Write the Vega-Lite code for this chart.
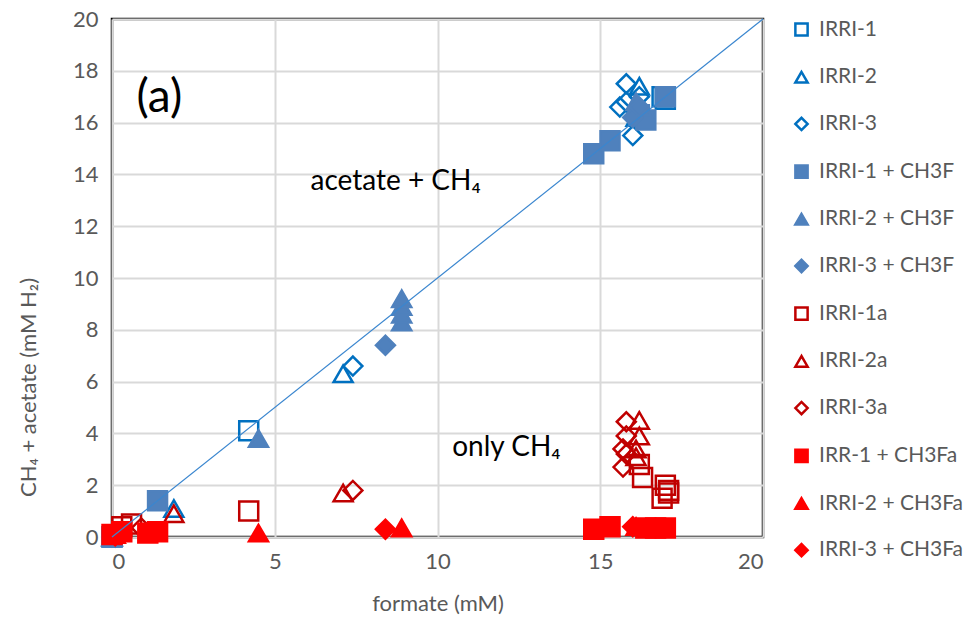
{
  "$schema": "https://vega.github.io/schema/vega-lite/v6.json",
  "width": 651,
  "height": 518,
  "autosize": "none",
  "padding": {"left": 112, "top": 19, "right": 204, "bottom": 90},
  "config": {
    "view": {"stroke": "#000000", "strokeWidth": 2.5},
    "font": "Lato",
    "axis": {"labelFont": "Lato", "titleFont": "Lato", "labelColor": "#595959", "titleColor": "#595959", "labelFontSize": 22, "titleFontSize": 22, "titleFontWeight": "normal", "gridColor": "#D9D9D9", "gridWidth": 2, "domain": false, "ticks": false},
    "legend": {"labelFont": "Lato", "labelFontSize": 21, "labelColor": "#595959"}
  },
  "datasets": {
    "pts": [
      {"series": "IRRI-1", "formate": 0, "total": 0},
      {"series": "IRRI-1", "formate": 4.2, "total": 4.1},
      {"series": "IRRI-1", "formate": 16.9, "total": 17.0},
      {"series": "IRRI-1", "formate": 17.0, "total": 16.9},
      {"series": "IRRI-2", "formate": 0, "total": 0},
      {"series": "IRRI-2", "formate": 1.9, "total": 1.1},
      {"series": "IRRI-2", "formate": 7.1, "total": 6.3},
      {"series": "IRRI-2", "formate": 16.2, "total": 17.4},
      {"series": "IRRI-2", "formate": 16.1, "total": 16.2},
      {"series": "IRRI-3", "formate": 0.1, "total": 0},
      {"series": "IRRI-3", "formate": 7.4, "total": 6.6},
      {"series": "IRRI-3", "formate": 15.8, "total": 17.5},
      {"series": "IRRI-3", "formate": 15.6, "total": 16.6},
      {"series": "IRRI-3", "formate": 15.8, "total": 16.8},
      {"series": "IRRI-3", "formate": 16.0, "total": 15.5},
      {"series": "IRRI-3", "formate": 16.2, "total": 17.0},
      {"series": "IRRI-1 + CH3F", "formate": 0, "total": 0},
      {"series": "IRRI-1 + CH3F", "formate": 1.4, "total": 1.4},
      {"series": "IRRI-1 + CH3F", "formate": 14.8, "total": 14.8},
      {"series": "IRRI-1 + CH3F", "formate": 15.3, "total": 15.3},
      {"series": "IRRI-1 + CH3F", "formate": 16.2, "total": 16.3},
      {"series": "IRRI-1 + CH3F", "formate": 16.4, "total": 16.1},
      {"series": "IRRI-1 + CH3F", "formate": 17.0, "total": 17.0},
      {"series": "IRRI-2 + CH3F", "formate": 0, "total": 0},
      {"series": "IRRI-2 + CH3F", "formate": 4.5, "total": 3.8},
      {"series": "IRRI-2 + CH3F", "formate": 8.9, "total": 8.3},
      {"series": "IRRI-2 + CH3F", "formate": 8.9, "total": 8.6},
      {"series": "IRRI-2 + CH3F", "formate": 8.9, "total": 8.9},
      {"series": "IRRI-2 + CH3F", "formate": 8.9, "total": 9.2},
      {"series": "IRRI-2 + CH3F", "formate": 16.1, "total": 16.8},
      {"series": "IRRI-2 + CH3F", "formate": 16.3, "total": 16.5},
      {"series": "IRRI-3 + CH3F", "formate": 0, "total": 0},
      {"series": "IRRI-3 + CH3F", "formate": 8.4, "total": 7.4},
      {"series": "IRRI-3 + CH3F", "formate": 16.0, "total": 16.2},
      {"series": "IRRI-3 + CH3F", "formate": 16.2, "total": 16.6},
      {"series": "IRRI-1a", "formate": 0.3, "total": 0.4},
      {"series": "IRRI-1a", "formate": 0.6, "total": 0.5},
      {"series": "IRRI-1a", "formate": 4.2, "total": 1.0},
      {"series": "IRRI-1a", "formate": 16.2, "total": 2.8},
      {"series": "IRRI-1a", "formate": 16.3, "total": 2.3},
      {"series": "IRRI-1a", "formate": 17.0, "total": 2.0},
      {"series": "IRRI-1a", "formate": 17.1, "total": 1.7},
      {"series": "IRRI-1a", "formate": 16.9, "total": 1.5},
      {"series": "IRRI-1a", "formate": 17.1, "total": 1.8},
      {"series": "IRRI-2a", "formate": 0.2, "total": 0.2},
      {"series": "IRRI-2a", "formate": 1.9, "total": 0.9},
      {"series": "IRRI-2a", "formate": 7.1, "total": 1.7},
      {"series": "IRRI-2a", "formate": 16.2, "total": 4.5},
      {"series": "IRRI-2a", "formate": 16.2, "total": 3.9},
      {"series": "IRRI-2a", "formate": 16.1, "total": 3.4},
      {"series": "IRRI-2a", "formate": 16.1, "total": 3.1},
      {"series": "IRRI-3a", "formate": 0.1, "total": 0.1},
      {"series": "IRRI-3a", "formate": 0.9, "total": 0.35},
      {"series": "IRRI-3a", "formate": 7.4, "total": 1.8},
      {"series": "IRRI-3a", "formate": 15.8, "total": 4.45},
      {"series": "IRRI-3a", "formate": 15.8, "total": 3.9},
      {"series": "IRRI-3a", "formate": 15.7, "total": 3.4},
      {"series": "IRRI-3a", "formate": 15.8, "total": 3.2},
      {"series": "IRRI-3a", "formate": 15.7, "total": 2.7},
      {"series": "IRR-1 + CH3Fa", "formate": 0, "total": 0.1},
      {"series": "IRR-1 + CH3Fa", "formate": 0.3, "total": 0.2},
      {"series": "IRR-1 + CH3Fa", "formate": 1.1, "total": 0.15},
      {"series": "IRR-1 + CH3Fa", "formate": 1.4, "total": 0.2},
      {"series": "IRR-1 + CH3Fa", "formate": 14.8, "total": 0.3},
      {"series": "IRR-1 + CH3Fa", "formate": 15.3, "total": 0.4},
      {"series": "IRR-1 + CH3Fa", "formate": 16.4, "total": 0.35},
      {"series": "IRR-1 + CH3Fa", "formate": 16.7, "total": 0.35},
      {"series": "IRR-1 + CH3Fa", "formate": 17.0, "total": 0.35},
      {"series": "IRRI-2 + CH3Fa", "formate": 0.1, "total": 0.1},
      {"series": "IRRI-2 + CH3Fa", "formate": 4.5, "total": 0.15},
      {"series": "IRRI-2 + CH3Fa", "formate": 8.9, "total": 0.35},
      {"series": "IRRI-2 + CH3Fa", "formate": 16.1, "total": 0.4},
      {"series": "IRRI-3 + CH3Fa", "formate": 0.1, "total": 0.05},
      {"series": "IRRI-3 + CH3Fa", "formate": 8.4, "total": 0.3},
      {"series": "IRRI-3 + CH3Fa", "formate": 16.0, "total": 0.4}
    ],
    "fit": [{"x0": 0, "y0": 0, "x1": 20, "y1": 20}],
    "notes": [
      {"label": "(a)", "fx": 0.75, "fy": 16.95, "kind": "big"},
      {"label": "acetate + CH₄", "fx": 6.1, "fy": 13.7, "kind": "mid"},
      {"label": "only CH₄", "fx": 10.45, "fy": 3.45, "kind": "mid"}
    ]
  },
  "layer": [
    {
      "data": {"name": "pts"},
      "mark": {"type": "point", "size": 360, "strokeWidth": 2.5, "opacity": 1},
      "encoding": {
        "x": {"field": "formate", "type": "quantitative", "scale": {"domain": [0, 20], "nice": false}, "axis": {"values": [0, 5, 10, 15, 20], "title": "formate (mM)", "labelPadding": 14, "titlePadding": 21}},
        "y": {"field": "total", "type": "quantitative", "scale": {"domain": [0, 20], "nice": false}, "axis": {"values": [0, 2, 4, 6, 8, 10, 12, 14, 16, 18, 20], "title": "CH₄ + acetate (mM H₂)", "labelPadding": 14, "titleX": -84, "titleY": 368, "titleAlign": "center", "titleBaseline": "middle", "titleAngle": -90}},
        "shape": {"field": "series", "type": "nominal", "scale": {"domain": ["IRRI-1", "IRRI-2", "IRRI-3", "IRRI-1 + CH3F", "IRRI-2 + CH3F", "IRRI-3 + CH3F", "IRRI-1a", "IRRI-2a", "IRRI-3a", "IRR-1 + CH3Fa", "IRRI-2 + CH3Fa", "IRRI-3 + CH3Fa"], "range": ["square", "triangle-up", "diamond", "square", "triangle-up", "diamond", "square", "triangle-up", "diamond", "square", "triangle-up", "diamond"]}, "legend": {"title": null, "orient": "right", "offset": 28, "rowPadding": 24.7, "symbolSize": 150, "symbolStrokeWidth": 2.5, "labelOffset": 7, "padding": 0}},
        "stroke": {"field": "series", "type": "nominal", "scale": {"domain": ["IRRI-1", "IRRI-2", "IRRI-3", "IRRI-1 + CH3F", "IRRI-2 + CH3F", "IRRI-3 + CH3F", "IRRI-1a", "IRRI-2a", "IRRI-3a", "IRR-1 + CH3Fa", "IRRI-2 + CH3Fa", "IRRI-3 + CH3Fa"], "range": ["#0070C0", "#0070C0", "#0070C0", "#4F81BD", "#4F81BD", "#4F81BD", "#C00000", "#C00000", "#C00000", "#FF0000", "#FF0000", "#FF0000"]}, "legend": {"title": null, "orient": "right", "offset": 28, "rowPadding": 24.7, "symbolSize": 150, "symbolStrokeWidth": 2.5, "labelOffset": 7, "padding": 0}},
        "fill": {"field": "series", "type": "nominal", "scale": {"domain": ["IRRI-1", "IRRI-2", "IRRI-3", "IRRI-1 + CH3F", "IRRI-2 + CH3F", "IRRI-3 + CH3F", "IRRI-1a", "IRRI-2a", "IRRI-3a", "IRR-1 + CH3Fa", "IRRI-2 + CH3Fa", "IRRI-3 + CH3Fa"], "range": ["transparent", "transparent", "transparent", "#4F81BD", "#4F81BD", "#4F81BD", "transparent", "transparent", "transparent", "#FF0000", "#FF0000", "#FF0000"]}, "legend": {"title": null, "orient": "right", "offset": 28, "rowPadding": 24.7, "symbolSize": 150, "symbolStrokeWidth": 2.5, "labelOffset": 7, "padding": 0}}
      }
    },
    {
      "data": {"name": "fit"},
      "mark": {"type": "rule", "color": "#3A86CF", "strokeWidth": 1.2},
      "encoding": {
        "x": {"field": "x0", "type": "quantitative"},
        "y": {"field": "y0", "type": "quantitative"},
        "x2": {"field": "x1"},
        "y2": {"field": "y1"}
      }
    },
    {
      "data": {"name": "notes"},
      "mark": {"type": "text", "align": "left", "baseline": "middle", "color": "#000000", "font": "Lato"},
      "encoding": {
        "x": {"field": "fx", "type": "quantitative"},
        "y": {"field": "fy", "type": "quantitative"},
        "text": {"field": "label"},
        "size": {"field": "kind", "type": "nominal", "scale": {"domain": ["big", "mid"], "range": [46, 28]}, "legend": null}
      }
    }
  ]
}
